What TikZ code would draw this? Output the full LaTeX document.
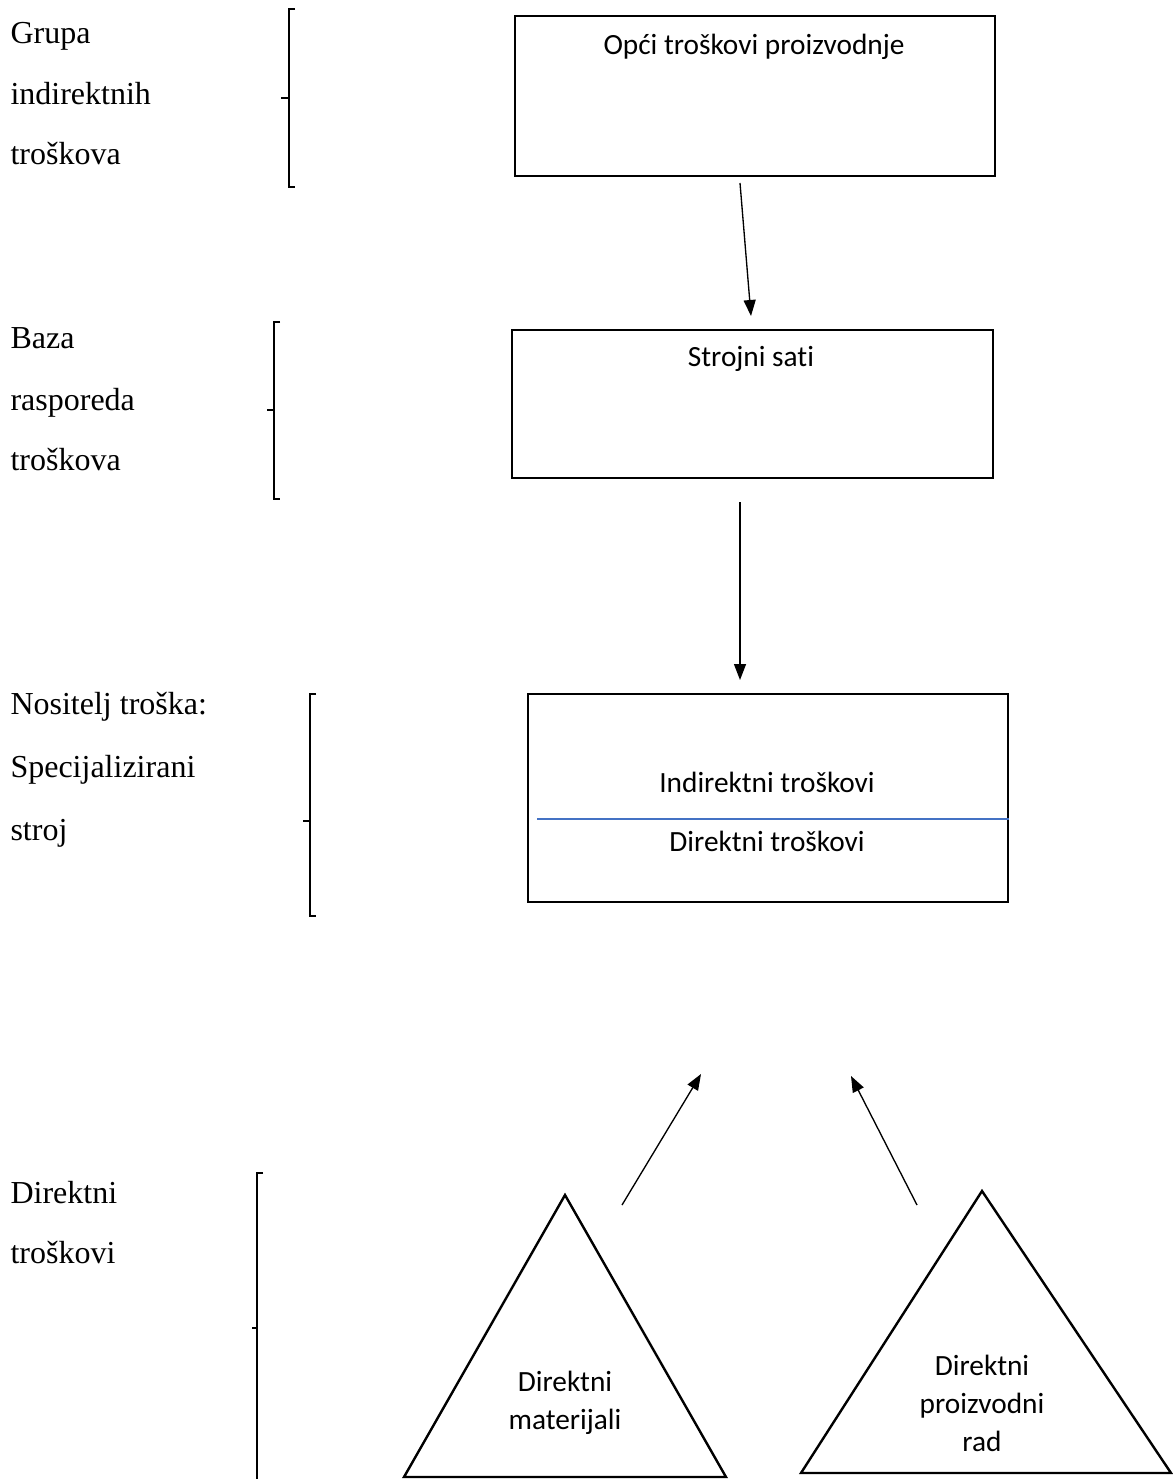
\documentclass[tikz,border=0pt]{standalone}
\usepackage{fontspec}
\setmainfont{Liberation Serif}
\newfontfamily\boxfont[Ligatures=NoCommon]{Carlito}
\usetikzlibrary{arrows.meta}
\tikzset{
  box/.style={draw, line width=0.8pt, anchor=north west, inner sep=0pt},
  lbl/.style={anchor=base west, inner sep=0pt, font=\fontsize{12pt}{14pt}\selectfont},
  btxt/.style={anchor=base, inner sep=0pt, font=\boxfont\fontsize{11pt}{14.25pt}\selectfont},
  brace/.style={line width=0.5pt},
  conn/.style={line width=0.5pt, -{Triangle[length=6pt,width=4.5pt]}},
  tri/.style={draw, line width=0.9pt, line join=miter}
}
\begin{document}
\begin{tikzpicture}[x=0.375pt,y=-0.375pt]
\useasboundingbox (0,0) rectangle (1172,1479);

% left labels
\node[lbl] (l1a) at (10,44) {Grupa};
\node[lbl] (l1b) at (10,105) {indirektnih};
\node[lbl] (l1c) at (10,165) {troškova};
\node[lbl] (l2a) at (10,349) {Baza};
\node[lbl] (l2b) at (10,410) {rasporeda};
\node[lbl] (l2c) at (10,471) {troškova};
\node[lbl] (l3a) at (10,714) {Nositelj troška:};
\node[lbl] (l3b) at (10,777) {Specijalizirani};
\node[lbl] (l3c) at (10,840) {stroj};
\node[lbl] (l4a) at (10,1203) {Direktni};
\node[lbl] (l4b) at (10,1263) {troškovi};

% brackets
\draw[brace] (295,9) -- (289,9) -- (289,187) -- (295,187);
\draw[brace] (281,98) -- (289,98);
\draw[brace] (280,322) -- (274,322) -- (274,499) -- (280,499);
\draw[brace] (267,410) -- (274,410);
\draw[brace] (316,694) -- (310,694) -- (310,916) -- (316,916);
\draw[brace] (303,821) -- (310,821);
\draw[brace] (263,1173) -- (257,1173) -- (257,1479);
\draw[brace] (252,1328) -- (257,1328);

% boxes
\node[box, minimum width=180pt, minimum height=60pt] (b1) at (514,15) {};
\node[btxt] (t1) at (754,55) {Opći troškovi proizvodnje};
\node[box, minimum width=180.4pt, minimum height=55.5pt] (b2) at (511,329) {};
\node[btxt] (t2) at (751,367) {Strojni sati};
\node[box, minimum width=180pt, minimum height=78pt] (b3) at (527,693) {};
\node[btxt] (t3a) at (767,792) {Indirektni troškovi};
\node[btxt] (t3b) at (767,851) {Direktni troškovi};
\coordinate (s1) at (537,819);
\draw[line width=0.5pt, draw={rgb,255:red,68;green,114;blue,196}] (s1) -- (b3.east |- s1);

% triangles
\coordinate (ta) at (565,1195);
\coordinate (tl) at (404,1477);
\coordinate (tr) at (726,1477);
\draw[tri] (ta) -- (tr) -- (tl) -- cycle;
\node[btxt] (tt1a) at (565,1391) {Direktni};
\node[btxt] (tt1b) at (565,1429) {materijali};
\coordinate (ua) at (982,1191);
\coordinate (ul) at (801,1473);
\coordinate (ur) at (1171,1473);
\draw[tri] (ua) -- (ur) -- (ul) -- cycle;
\node[btxt] (tt2a) at (982,1375) {Direktni};
\node[btxt] (tt2b) at (982,1413) {proizvodni};
\node[btxt] (tt2c) at (982,1451) {rad};

% connectors
\coordinate (a1s) at (740,183);
\coordinate (a1e) at (751,316);
\draw[conn] (a1s) -- (a1e);
\coordinate (a2s) at (740,502);
\coordinate (a2e) at (740,680);
\draw[conn] (a2s) -- (a2e);
\coordinate (a3s) at (622,1205);
\coordinate (a3e) at (701,1074);
\draw[conn] (a3s) -- (a3e);
\coordinate (a4s) at (917,1205);
\coordinate (a4e) at (851,1076);
\draw[conn] (a4s) -- (a4e);
\end{tikzpicture}
\end{document}
